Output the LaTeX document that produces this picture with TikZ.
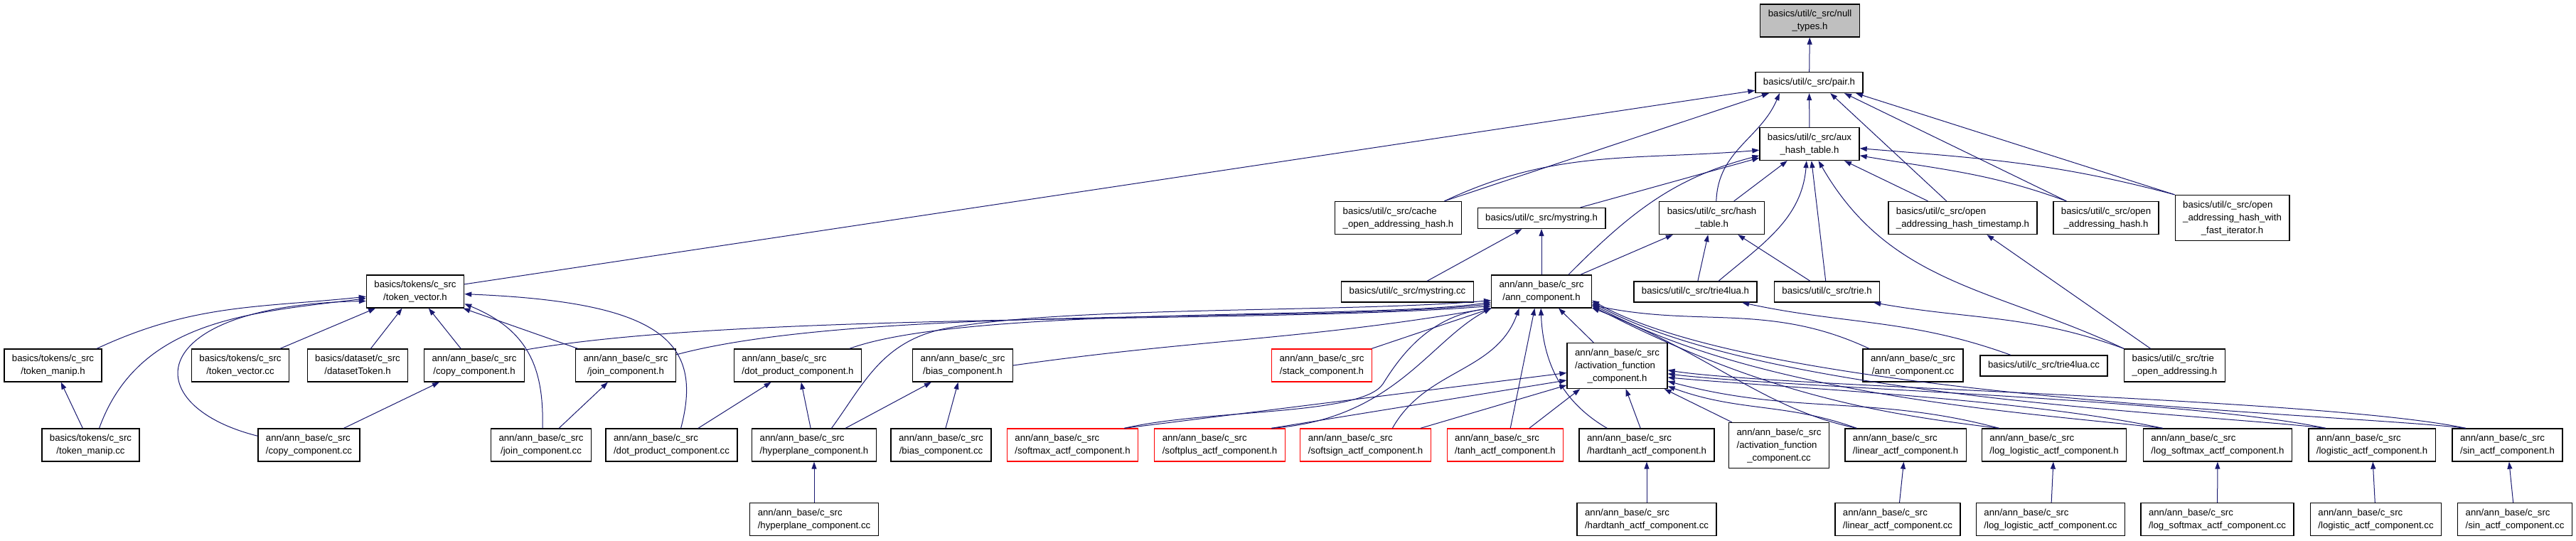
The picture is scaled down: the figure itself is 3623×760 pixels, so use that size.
\documentclass[tikz,border=0pt]{standalone}
\usepackage{fontspec}
\setmainfont{Liberation Sans}
\usetikzlibrary{arrows.meta}
\definecolor{edgeblue}{HTML}{191970}
\definecolor{rootgray}{HTML}{BFBFBF}
% first lines left, last line centred (as dot does with \l)
\newcommand{\lbltwo}[2]{\begin{tabular}{@{}l@{}}#1\\\multicolumn{1}{@{}c@{}}{#2}\end{tabular}}
\newcommand{\lblthree}[3]{\begin{tabular}{@{}l@{}}#1\\#2\\\multicolumn{1}{@{}c@{}}{#3}\end{tabular}}

\begin{document}
\begin{tikzpicture}[x=1pt,y=-1pt,line width=1pt,
  srcfile/.style={draw=black,line width=1.3pt,fill=white,inner xsep=11pt,inner ysep=5pt,
    minimum height=29pt,font=\fontsize{13.2}{18}\selectfont},
  truncfile/.style={srcfile,draw=red},
  incl/.style={draw=edgeblue,-{Triangle[length=10pt,width=7pt]}}]
\fill[white] (0,0) rectangle (3623,760);
\useasboundingbox (0,0) rectangle (3623,760);
% ---------- top: null_types, pair, aux_hash_table ----------
\node[srcfile,fill=rootgray] (nulltypes) at (2545.5,29) {\lbltwo{basics/util/c\_src/null}{\_types.h}};
\node[srcfile] (pair) at (2544.5,116) {basics/util/c\_src/pair.h};
\node[srcfile] (aux) at (2545,202.5) {\lbltwo{basics/util/c\_src/aux}{\_hash\_table.h}};
% ---------- util headers ----------
\node[srcfile] (cache) at (1966.5,306.5) {\lbltwo{basics/util/c\_src/cache}{\_open\_addressing\_hash.h}};
\node[srcfile] (mystringh) at (2168,307) {basics/util/c\_src/mystring.h};
\node[srcfile] (hashtable) at (2407.5,306.5) {\lbltwo{basics/util/c\_src/hash}{\_table.h}};
\node[srcfile] (oahts) at (2760.5,306.5) {\lbltwo{basics/util/c\_src/open}{\_addressing\_hash\_timestamp.h}};
\node[srcfile] (oah) at (2962,306.5) {\lbltwo{basics/util/c\_src/open}{\_addressing\_hash.h}};
\node[srcfile] (oahfast) at (3139.5,306.5) {\lblthree{basics/util/c\_src/open}{\_addressing\_hash\_with}{\_fast\_iterator.h}};
% ---------- second level ----------
\node[srcfile] (tokenvector) at (584,410) {\lbltwo{basics/tokens/c\_src}{/token\_vector.h}};
\node[srcfile] (mystringcc) at (1979.5,410.5) {basics/util/c\_src/mystring.cc};
\node[srcfile] (anncomp) at (2168,410) {\lbltwo{ann/ann\_base/c\_src}{/ann\_component.h}};
\node[srcfile] (trie4luah) at (2384.5,410.5) {basics/util/c\_src/trie4lua.h};
\node[srcfile] (trieh) at (2569.5,410.5) {basics/util/c\_src/trie.h};
% ---------- third level ----------
\node[srcfile] (tokenmaniph) at (74.5,514) {\lbltwo{basics/tokens/c\_src}{/token\_manip.h}};
\node[srcfile] (tokenvectorcc) at (338,514) {\lbltwo{basics/tokens/c\_src}{/token\_vector.cc}};
\node[srcfile] (datasettoken) at (503,514) {\lbltwo{basics/dataset/c\_src}{/datasetToken.h}};
\node[srcfile] (copyh) at (667,514) {\lbltwo{ann/ann\_base/c\_src}{/copy\_component.h}};
\node[srcfile] (joinh) at (880,514) {\lbltwo{ann/ann\_base/c\_src}{/join\_component.h}};
\node[srcfile] (dotproducth) at (1122,514) {\lbltwo{ann/ann\_base/c\_src}{/dot\_product\_component.h}};
\node[srcfile] (biash) at (1354,514) {\lbltwo{ann/ann\_base/c\_src}{/bias\_component.h}};
\node[truncfile] (stackh) at (1859,514) {\lbltwo{ann/ann\_base/c\_src}{/stack\_component.h}};
\node[srcfile] (actfunch) at (2274.5,514.5) {\lblthree{ann/ann\_base/c\_src}{/activation\_function}{\_component.h}};
\node[srcfile] (anncompcc) at (2690.5,514) {\lbltwo{ann/ann\_base/c\_src}{/ann\_component.cc}};
\node[srcfile] (trie4luacc) at (2874.5,514.5) {basics/util/c\_src/trie4lua.cc};
\node[srcfile] (trieoa) at (3058.5,514) {\lbltwo{basics/util/c\_src/trie}{\_open\_addressing.h}};
% ---------- fourth level ----------
\node[srcfile] (tokenmanipcc) at (127.5,626) {\lbltwo{basics/tokens/c\_src}{/token\_manip.cc}};
\node[srcfile] (copycc) at (434.5,626) {\lbltwo{ann/ann\_base/c\_src}{/copy\_component.cc}};
\node[srcfile] (joincc) at (761,626) {\lbltwo{ann/ann\_base/c\_src}{/join\_component.cc}};
\node[srcfile] (dotproductcc) at (944.5,626) {\lbltwo{ann/ann\_base/c\_src}{/dot\_product\_component.cc}};
\node[srcfile] (hyperplaneh) at (1145,626) {\lbltwo{ann/ann\_base/c\_src}{/hyperplane\_component.h}};
\node[srcfile] (biascc) at (1323.5,626) {\lbltwo{ann/ann\_base/c\_src}{/bias\_component.cc}};
\node[truncfile] (softmaxactf) at (1508.5,626) {\lbltwo{ann/ann\_base/c\_src}{/softmax\_actf\_component.h}};
\node[truncfile] (softplusactf) at (1715.5,626) {\lbltwo{ann/ann\_base/c\_src}{/softplus\_actf\_component.h}};
\node[truncfile] (softsignactf) at (1920.5,626) {\lbltwo{ann/ann\_base/c\_src}{/softsign\_actf\_component.h}};
\node[truncfile] (tanhactf) at (2117,626) {\lbltwo{ann/ann\_base/c\_src}{/tanh\_actf\_component.h}};
\node[srcfile] (hardtanhactf) at (2316,626) {\lbltwo{ann/ann\_base/c\_src}{/hardtanh\_actf\_component.h}};
\node[srcfile] (actfunccc) at (2502,626.5) {\lblthree{ann/ann\_base/c\_src}{/activation\_function}{\_component.cc}};
\node[srcfile] (linearactf) at (2680,626) {\lbltwo{ann/ann\_base/c\_src}{/linear\_actf\_component.h}};
\node[srcfile] (loglogisticactf) at (2889,626) {\lbltwo{ann/ann\_base/c\_src}{/log\_logistic\_actf\_component.h}};
\node[srcfile] (logsoftmaxactf) at (3119,626) {\lbltwo{ann/ann\_base/c\_src}{/log\_softmax\_actf\_component.h}};
\node[srcfile] (logisticactf) at (3336,626) {\lbltwo{ann/ann\_base/c\_src}{/logistic\_actf\_component.h}};
\node[srcfile] (sinactf) at (3526.5,626) {\lbltwo{ann/ann\_base/c\_src}{/sin\_actf\_component.h}};
% ---------- bottom row ----------
\node[srcfile] (hyperplanecc) at (1145,730.5) {\lbltwo{ann/ann\_base/c\_src}{/hyperplane\_component.cc}};
\node[srcfile] (hardtanhcc) at (2316,730.5) {\lbltwo{ann/ann\_base/c\_src}{/hardtanh\_actf\_component.cc}};
\node[srcfile] (linearcc) at (2669,730.5) {\lbltwo{ann/ann\_base/c\_src}{/linear\_actf\_component.cc}};
\node[srcfile] (loglogisticcc) at (2884,730.5) {\lbltwo{ann/ann\_base/c\_src}{/log\_logistic\_actf\_component.cc}};
\node[srcfile] (logsoftmaxcc) at (3118.5,730.5) {\lbltwo{ann/ann\_base/c\_src}{/log\_softmax\_actf\_component.cc}};
\node[srcfile] (logisticcc) at (3341.5,730.5) {\lbltwo{ann/ann\_base/c\_src}{/logistic\_actf\_component.cc}};
\node[srcfile] (sincc) at (3537,730.5) {\lbltwo{ann/ann\_base/c\_src}{/sin\_actf\_component.cc}};
% ---------- includes of pair.h / null_types.h ----------
\draw[incl] (pair) -- (nulltypes);
\draw[incl] (tokenvector) -- (pair);
\draw[incl] (cache.20) -- (pair.-165);
\draw[incl] (hashtable.75) .. controls (2416,212) and (2476,195) .. (pair.-160);
\draw[incl] (aux) -- (pair);
\draw[incl] (oahts.134) -- (pair.-27);
\draw[incl] (oah.157) -- (pair.-17);
\draw[incl] (oahfast.north west) -- (pair.-13);
% ---------- includes of aux_hash_table.h ----------
\draw[incl] (cache.20) .. controls (2188,209) and (2298,226) .. (aux.187);
\draw[incl] (mystringh) -- (aux);
\draw[incl] (anncomp.32) .. controls (2293,299) and (2354,250) .. (aux.193);
\draw[incl] (hashtable) -- (aux);
\draw[incl] (trie4luah.25) .. controls (2479,343) and (2534,308) .. (aux.-100);
\draw[incl] (trieh) -- (aux);
\draw[incl] (trieoa.north west) .. controls (2805,405) and (2658,401) .. (aux.-62);
\draw[incl] (oahts) -- (aux);
\draw[incl] (oah.157) .. controls (2797,243) and (2733,239) .. (aux.-13);
\draw[incl] (oahfast.north west) .. controls (2891,229) and (2791,223) .. (aux.-5);
% ---------- other util headers ----------
\draw[incl] (mystringcc) -- (mystringh);
\draw[incl] (anncomp) -- (mystringh);
\draw[incl] (anncomp) -- (hashtable);
\draw[incl] (trie4luah) -- (hashtable);
\draw[incl] (trieh) -- (hashtable);
\draw[incl] (trieoa) -- (oahts);
\draw[incl] (trie4luacc.162) .. controls (2686,448) and (2597,457) .. (trie4luah.-13);
\draw[incl] (trieoa.north west) .. controls (2855,442) and (2772,450) .. (trieh.-13);
% ---------- token_vector.h ----------
\draw[incl] (tokenmaniph.21) .. controls (272,427) and (364,433) .. (tokenvector.186);
\draw[incl] (tokenmanipcc.63) .. controls (195,449) and (352,440) .. (tokenvector.188);
\draw[incl] (copycc.170) .. controls (190,570) and (200,430) .. (tokenvector.191);
\draw[incl] (tokenvectorcc) -- (tokenvector);
\draw[incl] (datasettoken) -- (tokenvector);
\draw[incl] (copyh) -- (tokenvector);
\draw[incl] (joinh) -- (tokenvector);
\draw[incl] (joincc.85) .. controls (765,520) and (745,465) .. (tokenvector.-14);
\draw[incl] (dotproductcc.61) .. controls (990,480) and (930,425) .. (tokenvector.-3);
\draw[incl] (tokenmanipcc) -- (tokenmaniph);
\draw[incl] (copycc) -- (copyh);
\draw[incl] (joincc) -- (joinh);
\draw[incl] (dotproductcc) -- (dotproducth);
\draw[incl] (hyperplaneh) -- (dotproducth);
\draw[incl] (hyperplaneh) -- (biash);
\draw[incl] (biascc) -- (biash);
\draw[incl] (hyperplanecc) -- (hyperplaneh);
% ---------- ann_component.h ----------
\draw[incl] (copyh.17) .. controls (1051,437) and (1779,456) .. (anncomp.196);
\draw[incl] (joinh.12) .. controls (1211,429) and (1830,455) .. (anncomp.194);
\draw[incl] (dotproducth.18) .. controls (1360,430) and (1923,450) .. (anncomp.192);
\draw[incl] (biash.east) .. controls (1685,477) and (1838,478) .. (anncomp.198);
\draw[incl] (hyperplaneh.44) .. controls (1215,540) and (1240,480) .. (1330,462)
  .. controls (1500,430) and (1900,440) .. (anncomp.190);
\draw[incl] (stackh) -- (anncomp);
\draw[incl] (actfunch) -- (anncomp);
\draw[incl] (anncompcc.159) .. controls (2489,425) and (2390,461) .. (anncomp.-15);
% ---------- activation functions ----------
\draw[incl] (actfunccc) -- (actfunch);
\draw[incl] (softmaxactf.18) -- (actfunch.188);
\draw[incl] (softmaxactf.18) .. controls (1700,575) and (1915,585) .. (1945,540)
  .. controls (1970,500) and (2010,445) .. (anncomp.south west);
\draw[incl] (softplusactf.18) .. controls (1960,590) and (2010,480) .. (anncomp.south west);
\draw[incl] (softplusactf.18) -- (actfunch.196);
\draw[incl] (softsignactf.32) .. controls (2005,519) and (2104,524) .. (anncomp.-143);
\draw[incl] (softsignactf.17) -- (actfunch.201);
\draw[incl] (tanhactf.73) -- (anncomp.-112);
\draw[incl] (tanhactf.35) -- (actfunch.-148);
\draw[incl] (hardtanhactf.157) .. controls (2196,565) and (2170,509) .. (anncomp.-92);
\draw[incl] (hardtanhactf) -- (actfunch);
\draw[incl] (linearactf.161) .. controls (2480,575) and (2410,500) .. (anncomp.-18);
\draw[incl] (linearactf.161) .. controls (2511,566) and (2446,580) .. (actfunch.-22);
\draw[incl] (loglogisticactf.163) .. controls (2643,582) and (2480,555) .. (anncomp.-16);
\draw[incl] (loglogisticactf.163) .. controls (2634,555) and (2524,584) .. (actfunch.-17);
\draw[incl] (logsoftmaxactf.163) .. controls (2874,582) and (2480,560) .. (anncomp.-14);
\draw[incl] (logsoftmaxactf.163) .. controls (2844,560) and (2500,545) .. (actfunch.-13);
\draw[incl] (logisticactf.160) .. controls (3102,582) and (2480,560) .. (anncomp.-12);
\draw[incl] (logisticactf.160) .. controls (3072,560) and (2500,545) .. (actfunch.-9);
\draw[incl] (sinactf.158) .. controls (3299,582) and (2480,560) .. (anncomp.-10);
\draw[incl] (sinactf.158) .. controls (3269,560) and (2500,545) .. (actfunch.-5);
% ---------- sources of the actf headers ----------
\draw[incl] (hardtanhcc) -- (hardtanhactf);
\draw[incl] (linearcc) -- (linearactf);
\draw[incl] (loglogisticcc) -- (loglogisticactf);
\draw[incl] (logsoftmaxcc) -- (logsoftmaxactf);
\draw[incl] (logisticcc) -- (logisticactf);
\draw[incl] (sincc) -- (sinactf);
\end{tikzpicture}
\end{document}
